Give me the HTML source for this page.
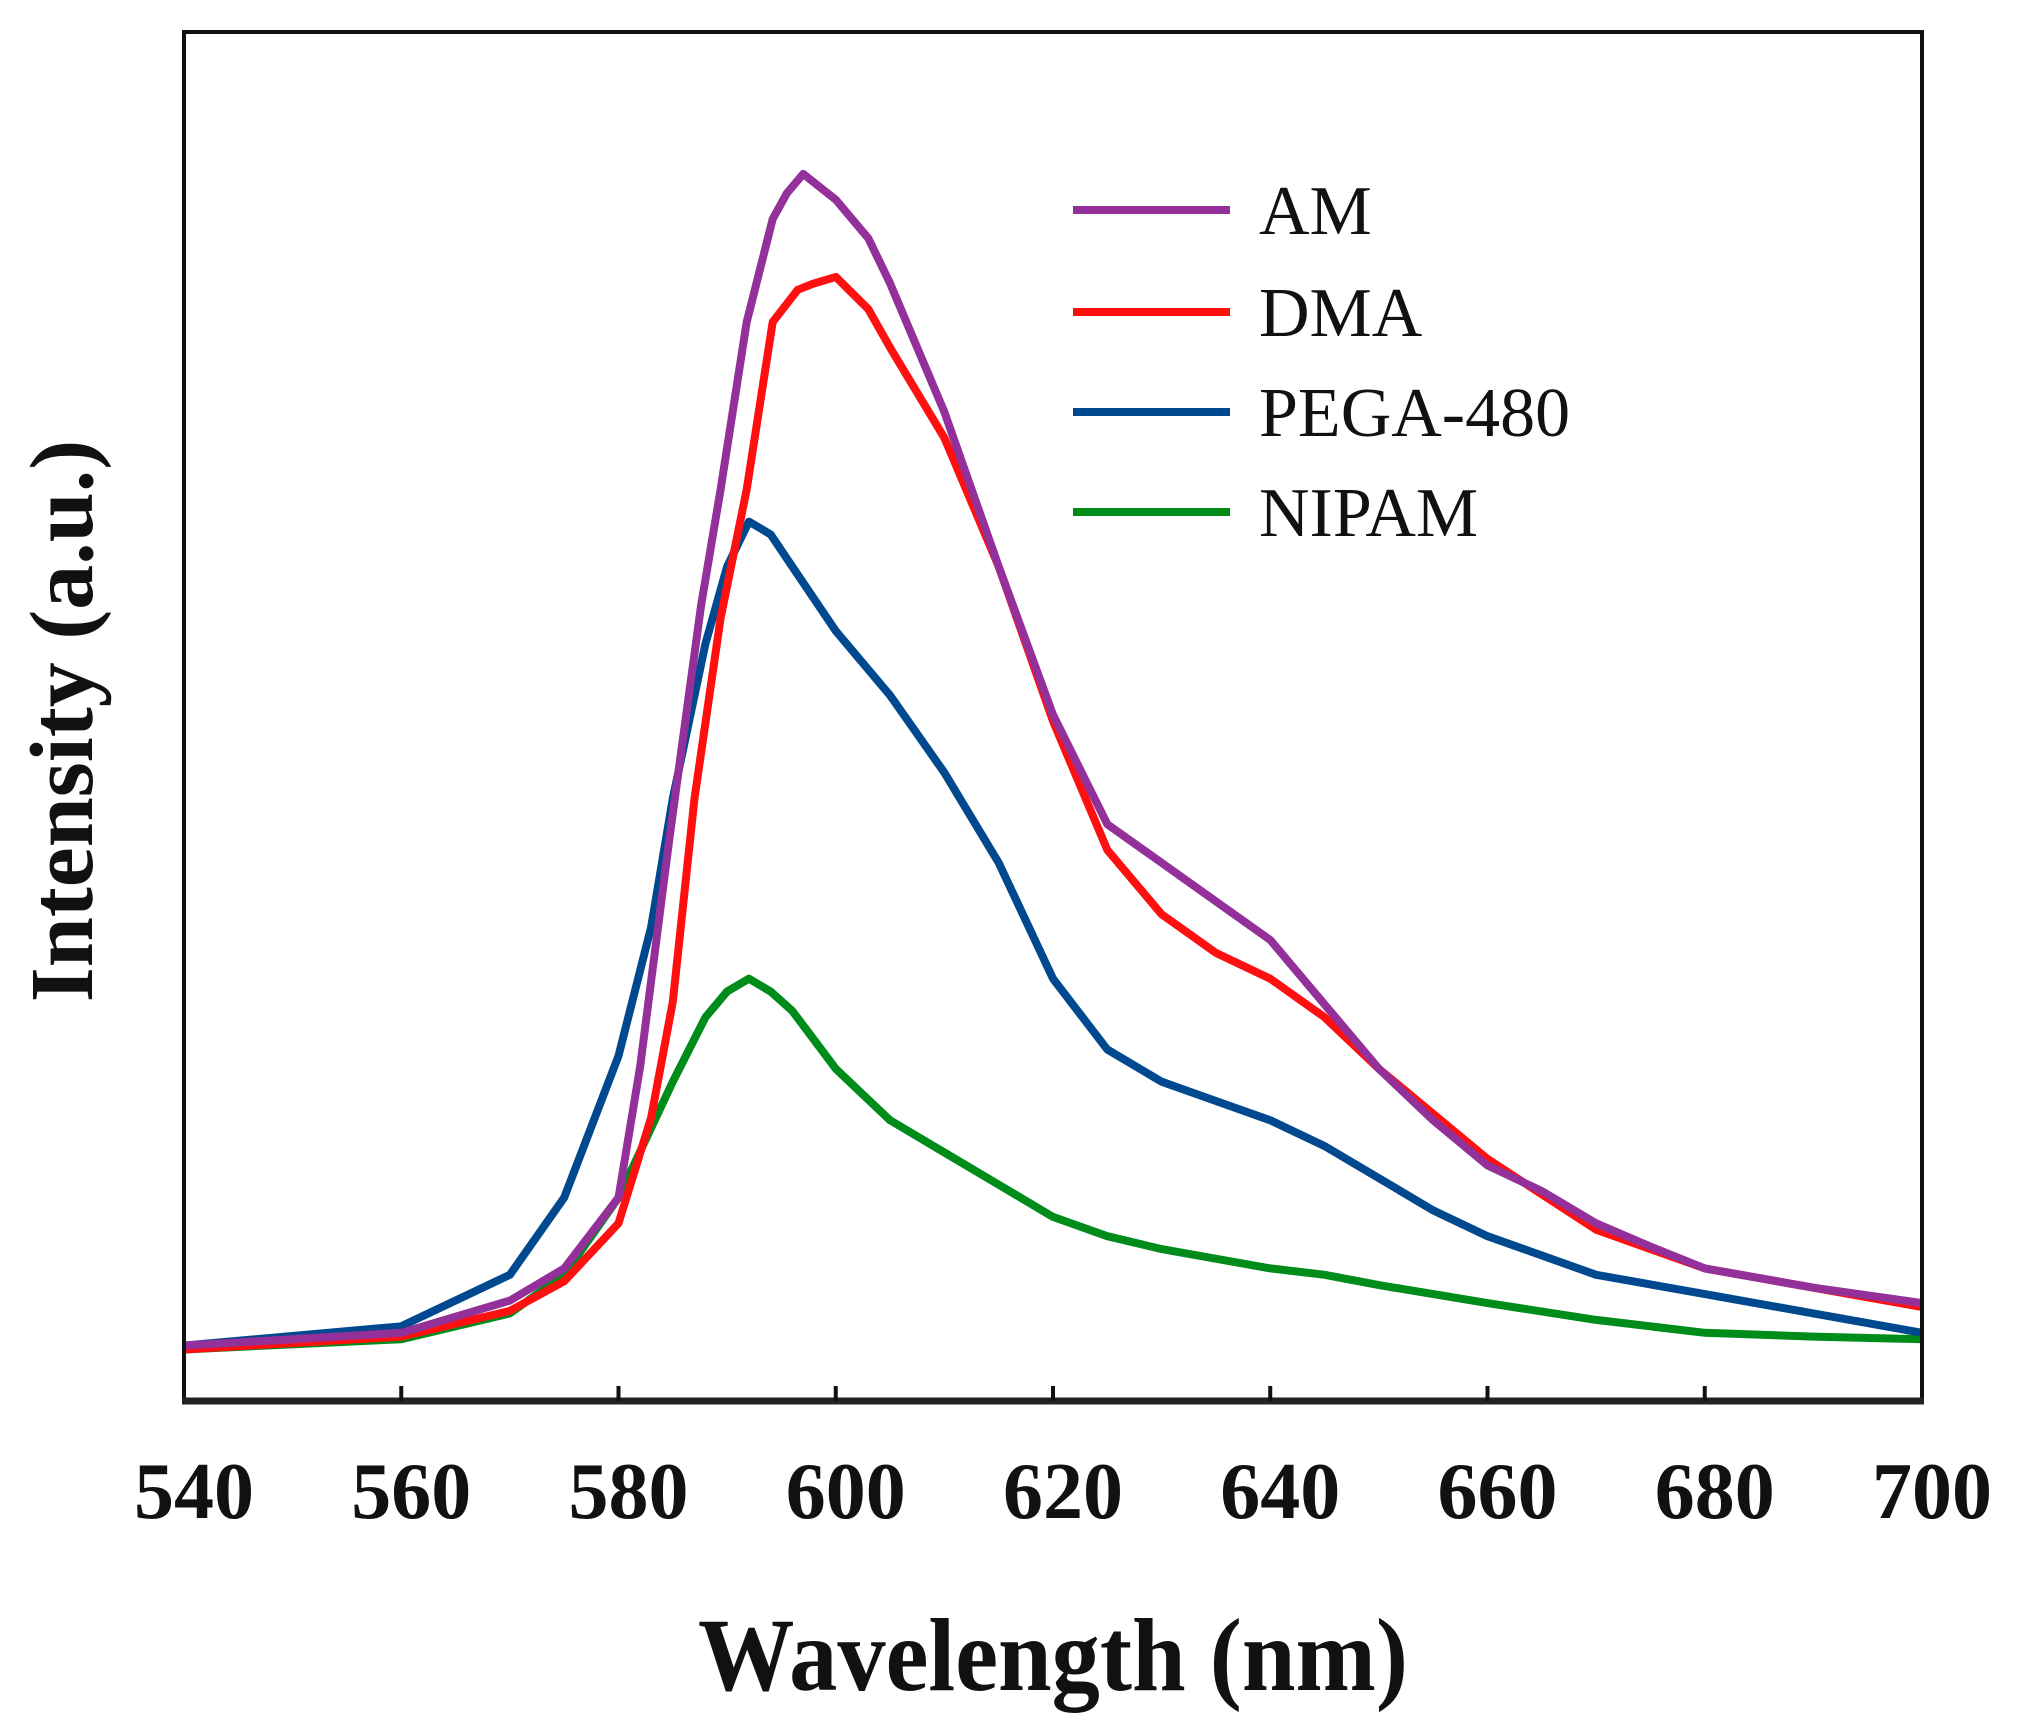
<!DOCTYPE html>
<html><head><meta charset="utf-8"><style>
html,body{margin:0;padding:0;background:#fff}
svg{display:block}
text{font-family:"Liberation Serif","Times New Roman",serif;fill:#111}
</style></head><body>
<svg id="chart" width="2019" height="1716" viewBox="0 0 2019 1716">
<g id="series"></g>
<rect x="184" y="32" width="1738" height="1369" fill="none" stroke="#111" stroke-width="4"/>
<line x1="182" y1="1401" x2="1924" y2="1401" stroke="#222" stroke-width="7"/>
<g id="ticks"></g>
<text x="1053" y="1690" font-size="104" font-weight="bold" text-anchor="middle" textLength="710" lengthAdjust="spacingAndGlyphs">Wavelength (nm)</text>
<text transform="translate(92,721) rotate(-90)" font-size="90" font-weight="bold" text-anchor="middle">Intensity (a.u.)</text>
<g id="legend"></g>
</svg>
<script>
const categories = ["AM","DMA","PEGA-480","NIPAM"];
const colors = ["#93309a","#ff1010","#00498f","#008c1a"];
const xTicks = [540,560,580,600,620,640,660,680,700];
const amX = [540,560,570,575,580,582,584.7,587.6,589.4,591.8,594.2,595.5,597,600,603,605,610,615,620,625,630,635,640,645,650,655,660,665,670,675,680,690,700];
const amY = [43,53,78,103,158,260,438,618,708,838,918,938,953,933,903,868,768,648,533,448,418,388,358,308,258,218,183,163,138,120,103,88,76];
const dmaX = [540,560,570,575,580,583,585,587,589.4,591.8,594.2,596.5,598,600,603,605,610,615,620,625,630,635,640,645,650,660,670,680,690,700];
const dmaY = [40,50,70,93,138,220,310,468,608,708,838,863,868,873,848,818,748,648,528,428,378,348,328,298,258,188,133,103,88,73];
const pegaX = [540,560,570,575,580,583,585,588,590,592,594,596,600,605,610,615,620,625,630,635,640,645,650,655,660,670,680,690,700];
const pegaY = [43,58,98,158,268,368,468,588,648,683,673,648,598,548,488,418,328,273,248,233,218,198,173,148,128,98,83,68,53];
const nipamX = [540,560,570,575,580,585,588,590,592,594,596,600,605,610,615,620,625,630,640,645,650,660,670,680,690,700];
const nipamY = [40,48,68,98,158,248,298,318,328,318,303,258,218,193,168,143,128,118,103,98,90,76,63,53,50,48];
const seriesX = [amX,dmaX,pegaX,nipamX];
const seriesY = [amY,dmaY,pegaY,nipamY];

const NS="http://www.w3.org/2000/svg";
const xs = v => 184 + (v-540)/160*1738;
const ys = v => 1401 - v*1.2876;

const sg=document.getElementById('series');
[3,2,1,0].forEach(i=>{
  const p=document.createElementNS(NS,'path');
  let d='';
  seriesX[i].forEach((x,j)=>{d+=(j?'L':'M')+xs(x).toFixed(1)+' '+ys(seriesY[i][j]).toFixed(1);});
  p.setAttribute('d',d);
  p.setAttribute('fill','none');
  p.setAttribute('stroke',colors[i]);
  p.setAttribute('stroke-width','8');
  p.setAttribute('stroke-linejoin','round');
  
  
  sg.appendChild(p);
});

const tg=document.getElementById('ticks');
xTicks.forEach(t=>{
  if(t!==540&&t!==700){
    const l=document.createElementNS(NS,'line');
    l.setAttribute('x1',xs(t));l.setAttribute('x2',xs(t));
    l.setAttribute('y1',1401);l.setAttribute('y2',1386);
    l.setAttribute('stroke','#111');l.setAttribute('stroke-width','4');
    
    
    tg.appendChild(l);
  }
  const tx=document.createElementNS(NS,'text');
  tx.setAttribute('x',xs(t)+10);tx.setAttribute('y',1518);
  tx.setAttribute('font-size','80');tx.setAttribute('font-weight','bold');
  tx.setAttribute('text-anchor','middle');
  tx.textContent=t;
  
  
  tg.appendChild(tx);
});

const lg=document.getElementById('legend');
const ly=[210,312,412,512];
categories.forEach((c,i)=>{
  const l=document.createElementNS(NS,'line');
  l.setAttribute('x1',1073);l.setAttribute('x2',1230);
  l.setAttribute('y1',ly[i]);l.setAttribute('y2',ly[i]);
  l.setAttribute('stroke',colors[i]);l.setAttribute('stroke-width','8');
  
  
  lg.appendChild(l);
  const tx=document.createElementNS(NS,'text');
  tx.setAttribute('x',1259);tx.setAttribute('y',ly[i]+24);
  tx.setAttribute('font-size','70');
  tx.textContent=c;
  
  
  lg.appendChild(tx);
});
</script>
</body></html>
